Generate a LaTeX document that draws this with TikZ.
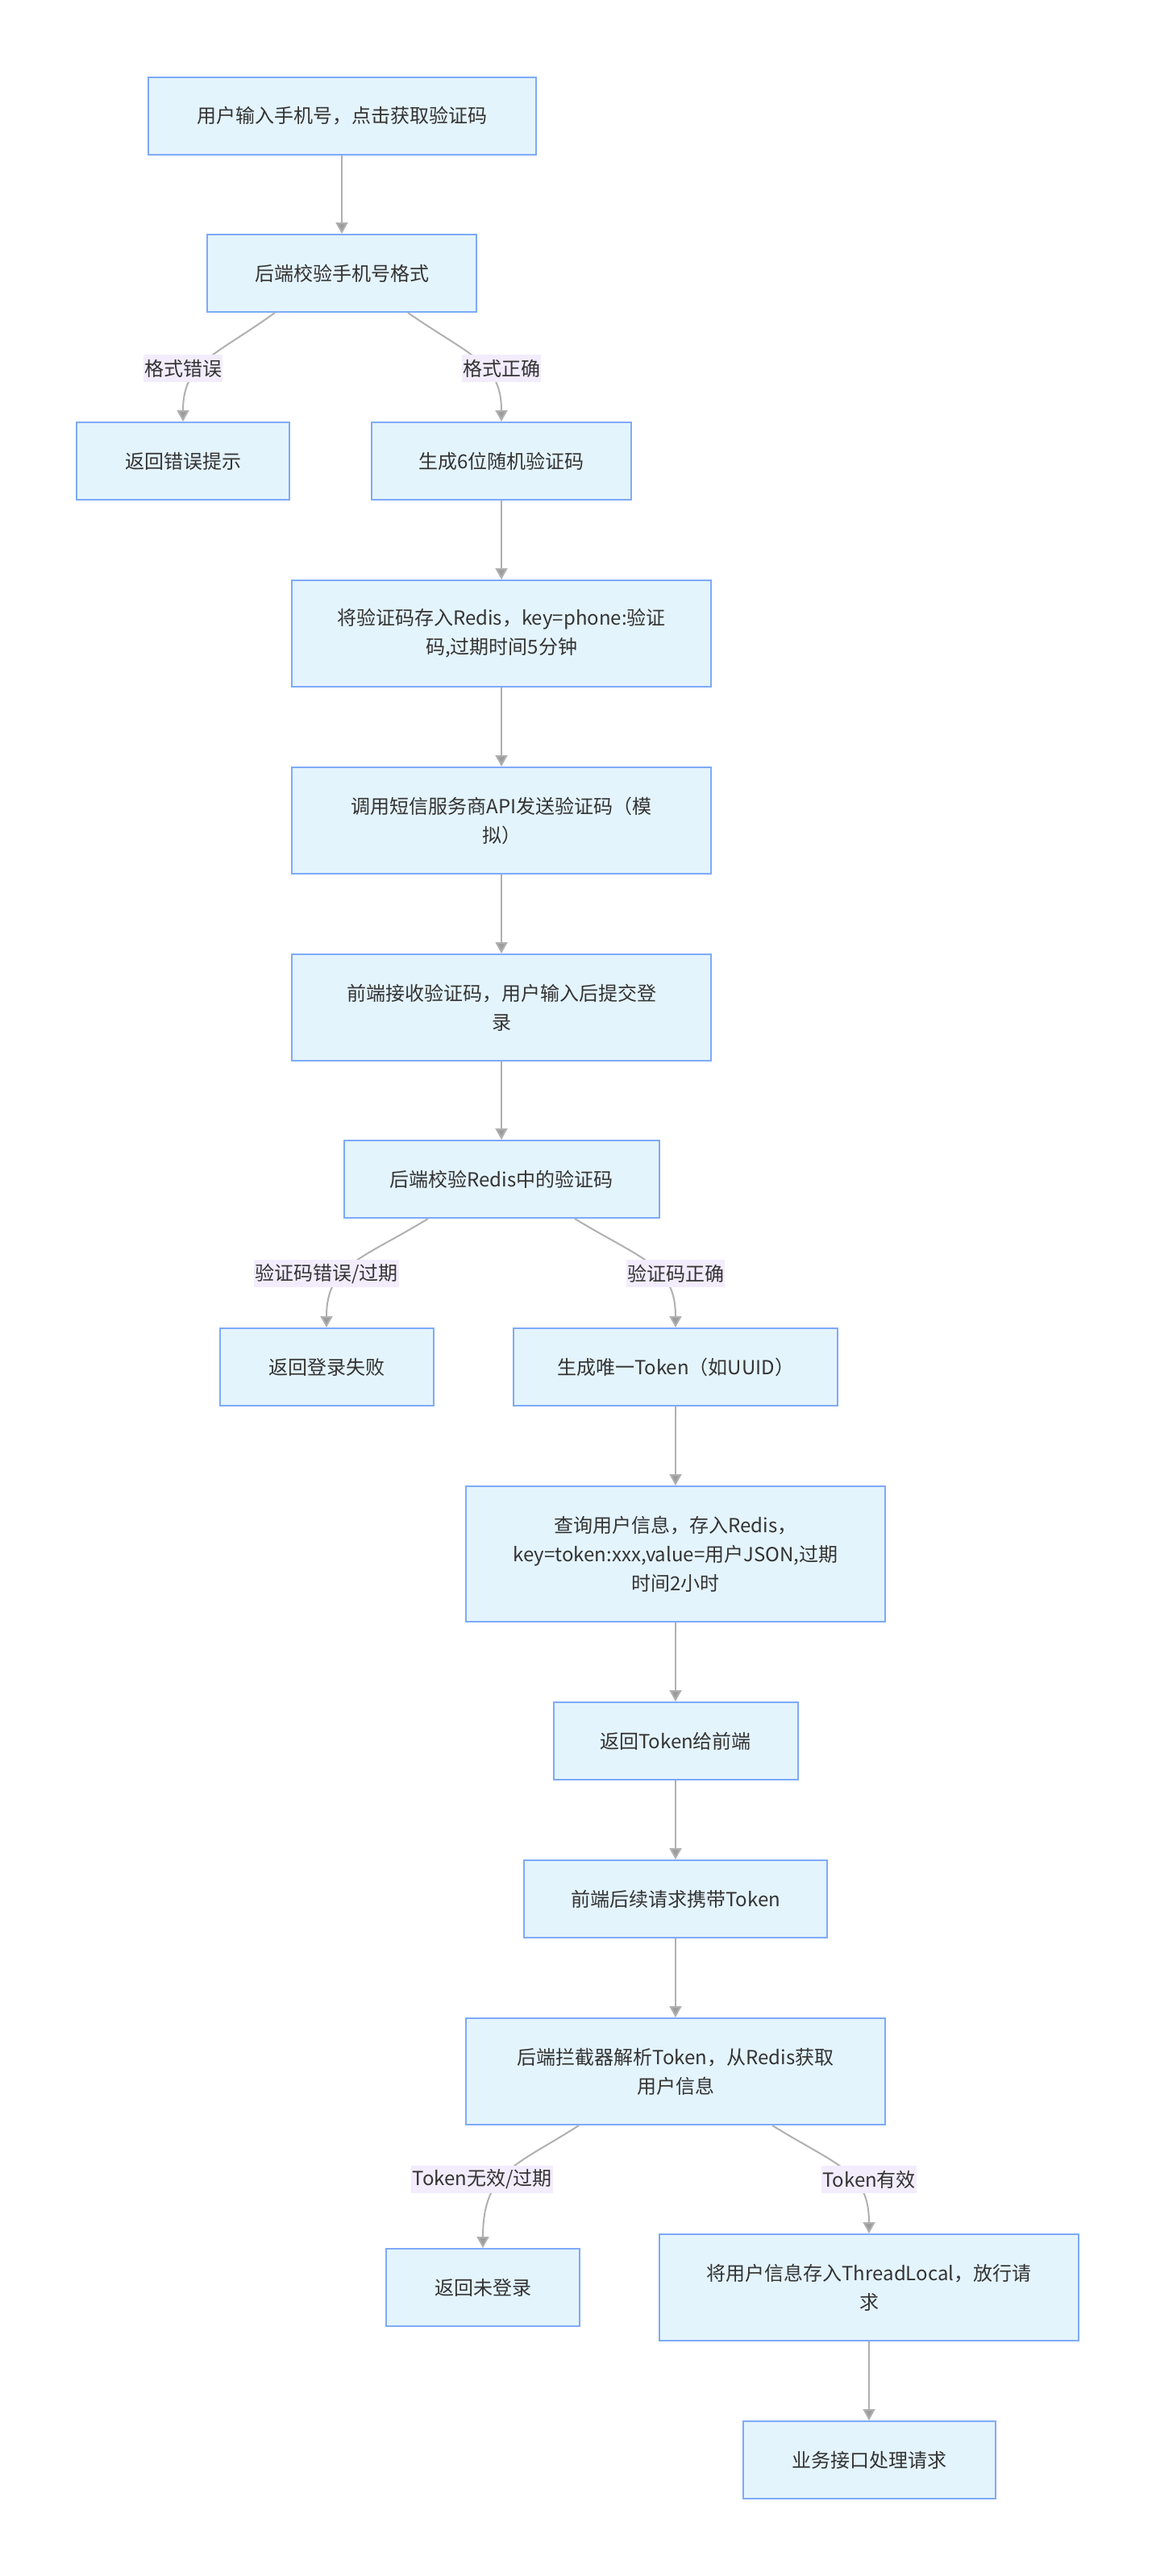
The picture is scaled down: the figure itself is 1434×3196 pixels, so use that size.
\documentclass[tikz,border=0pt]{standalone}
\usepackage{fontspec}
\setmainfont{Noto Sans CJK SC}
\usetikzlibrary{arrows.meta}
\definecolor{boxfill}{HTML}{E4F4FD}
\definecolor{boxline}{HTML}{7EAAF8}
\definecolor{lblfill}{HTML}{F3ECFD}
\definecolor{edgecol}{HTML}{B0B0B0}
\definecolor{tipcol}{HTML}{9C9C9C}
\definecolor{txt}{HTML}{333333}
\begin{document}
\begin{tikzpicture}[x=0.5pt,y=-0.5pt,
  box/.style={draw=boxline, line width=1pt, fill=boxfill, text=txt, align=center,
    font={\fontsize{12}{18}\selectfont}, inner sep=0pt},
  sz/.style 2 args={minimum width=#1*0.5pt, minimum height=#2*0.5pt},
  lbl/.style={fill=lblfill, text=txt, font={\fontsize{12}{18}\selectfont},
    inner xsep=0.5pt, inner ysep=0pt, minimum height=17pt},
  edge/.style={draw=edgecol, line width=1pt,
    -{Triangle[length=7pt,width=7.5pt,fill=tipcol]}}
]
\useasboundingbox (0,0) rectangle (1434,3196);

% boxes
\node[box, sz={481}{96}] (n1) at (424,144) {用户输入手机号，点击获取验证码};
\node[box, sz={334}{96}] (n2) at (424,339) {后端校验手机号格式};
\node[box, sz={264}{96}] (n3) at (227,572) {返回错误提示};
\node[box, sz={322}{96}] (n4) at (622,572) {生成6位随机验证码};
\node[box, sz={520}{132}] (n5) at (622,786) {将验证码存入Redis，key=phone:验证\\码,过期时间5分钟};
\node[box, sz={520}{132}] (n6) at (622,1018) {调用短信服务商API发送验证码（模\\拟）};
\node[box, sz={520}{132}] (n7) at (622,1250) {前端接收验证码，用户输入后提交登\\录};
\node[box, sz={391}{96}] (n8) at (622,1463) {后端校验Redis中的验证码};
\node[box, sz={265}{96}] (n9) at (405,1696) {返回登录失败};
\node[box, sz={402}{96}] (n10) at (838,1696) {生成唯一Token（如UUID）};
\node[box, sz={520}{168}] (n11) at (838,1928) {查询用户信息，存入Redis，\\key=token:xxx,value=用户JSON,过期\\时间2小时};
\node[box, sz={303}{96}] (n12) at (838,2160) {返回Token给前端};
\node[box, sz={376}{96}] (n13) at (838,2356) {前端后续请求携带Token};
\node[box, sz={520}{132}] (n14) at (838,2570) {后端拦截器解析Token，从Redis获取\\用户信息};
\node[box, sz={240}{96}] (n15) at (599,2838) {返回未登录};
\node[box, sz={520}{132}] (n16) at (1078,2838) {将用户信息存入ThreadLocal，放行请\\求};
\node[box, sz={313}{96}] (n17) at (1078,3052) {业务接口处理请求};

% straight connectors
\draw[edge] (n1) -- (n2);
\draw[edge] (n4) -- (n5);
\draw[edge] (n5) -- (n6);
\draw[edge] (n6) -- (n7);
\draw[edge] (n7) -- (n8);
\draw[edge] (n10) -- (n11);
\draw[edge] (n11) -- (n12);
\draw[edge] (n12) -- (n13);
\draw[edge] (n13) -- (n14);
\draw[edge] (n16) -- (n17);

% branching connectors
\draw[edge] ([xshift=-41.5pt]n2.south) .. controls +(-75,54) and +(0,-73) .. (n3.north);
\draw[edge] ([xshift=41pt]n2.south) .. controls +(78,54) and +(0,-73) .. (n4.north);
\draw[edge] ([xshift=-45.5pt]n8.south) .. controls +(-84,51) and +(0,-77) .. (n9.north);
\draw[edge] ([xshift=45.5pt]n8.south) .. controls +(84,51) and +(0,-77) .. (n10.north);
\draw[edge] ([xshift=-60pt]n14.south) .. controls +(-78,50) and +(0,-95) .. (n15.north);
\draw[edge] ([xshift=60pt]n14.south) .. controls +(81,50) and +(0,-77) .. (n16.north);

% edge labels
\node[lbl] (l1) at (227,457) {格式错误};
\node[lbl] (l2) at (622,457) {格式正确};
\node[lbl] (l3) at (405,1580) {验证码错误/过期};
\node[lbl] (l4) at (838,1580) {验证码正确};
\node[lbl] (l5) at (598,2704) {Token无效/过期};
\node[lbl] (l6) at (1078,2704) {Token有效};
\end{tikzpicture}
\end{document}
